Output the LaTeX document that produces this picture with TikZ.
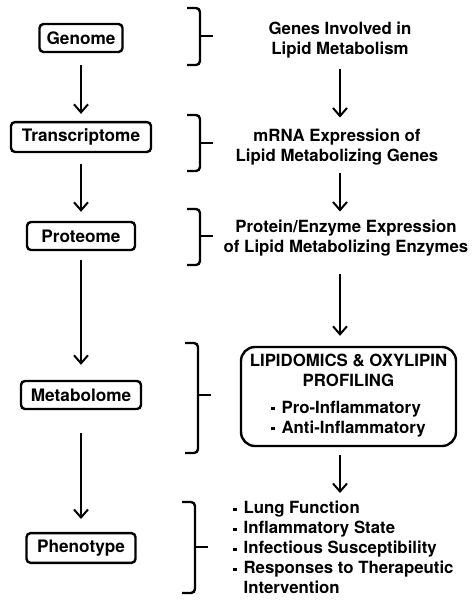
\documentclass[tikz,border=0pt]{standalone}
\usepackage{fontspec}
\setmainfont{TeX Gyre Heros}
\usetikzlibrary{arrows.meta}
\newcommand{\bul}{\raisebox{1.5pt}{\rule{1.6pt}{1.6pt}}\hspace{3.5pt}}
\begin{document}
\begin{tikzpicture}[x=0.5pt,y=-0.5pt,
  omic/.style={shape=rectangle,draw=black,line width=1.2pt,rounded corners=2pt,minimum height=14pt,inner xsep=0pt,font=\bfseries\fontsize{8.6}{10}\selectfont},
  info/.style={align=center,inner sep=0pt,font=\bfseries\fontsize{8.4}{10}\selectfont},
  infoBox/.style={info,draw=black,line width=1.2pt,rounded corners=7pt,minimum width=107.5pt,minimum height=49.5pt},
  arr/.style={-{Straight Barb[length=4pt,width=7pt]},line width=1pt},
  brk/.style={line width=1.2pt,rounded corners=2pt}]
\def\xl{81};
\def\xr{340};
% bracket: left x, top y, bottom y, tip y
\newcommand{\brk}[4]{\draw[brk] (#1,#2) -- (#1+13,#2) -- (#1+13,#3) -- (#1,#3);
  \draw[brk] (#1+13,#4) -- (#1+26,#4);}

\useasboundingbox (0,0) rectangle (475,601);

\node[omic,minimum width=41.5pt] (genome) at (\xl,38) {Genome};
\node[omic,minimum width=70pt] (transcriptome) at (\xl,137) {Transcriptome};
\node[omic,minimum width=54pt] (proteome) at (\xl,236) {Proteome};
\node[omic,minimum width=60pt] (metabolome) at (\xl,395) {Metabolome};
\node[omic,minimum width=54.5pt] (phenotype) at (\xl,548) {Phenotype};

\draw[arr,shorten <=6pt,shorten >=3.5pt] (genome.south) -- (genome.south |- transcriptome.north);
\draw[arr,shorten <=5.5pt,shorten >=4.5pt] (transcriptome.south) -- (transcriptome.south |- proteome.north);
\draw[arr,shorten <=4.5pt,shorten >=7.5pt] (proteome.south) -- (proteome.south |- metabolome.north);
\draw[arr,shorten <=11.5pt,shorten >=6.5pt] (metabolome.south) -- (metabolome.south |- phenotype.north);

\brk{187}{8}{65}{36}
\brk{187}{115}{171}{143}
\brk{187}{209}{265}{236}
\brk{185}{343}{453}{395}
\brk{182}{502}{593}{547}

\node[info] (genes) at (\xr,40) {Genes Involved in\\Lipid Metabolism};
\node[info] (mrna) at (337,147) {mRNA Expression of\\Lipid Metabolizing Genes};
\node[info] (protein) at (346,238) {Protein/Enzyme Expression\\of Lipid Metabolizing Enzymes};
\node[infoBox] (lipids) at (348.5,396.5) {LIPIDOMICS \& OXYLIPIN\\PROFILING\\[5.5pt]
  \begin{tabular}{@{}l@{}}\bul Pro-Inflammatory\\\bul Anti-Inflammatory\end{tabular}};
\node[info,align=left,anchor=north west] (traits) at (233,501) {\bul Lung Function\\\bul Inflammatory State\\\bul Infectious Susceptibility\\\bul Responses to Therapeutic\\\phantom{\bul}Intervention};

\draw[arr,shorten <=5.5pt,shorten >=5.5pt] (genes.south) -- (genes.south |- mrna.north);
\draw[arr,shorten <=4pt,shorten >=4pt] (mrna.south -| genes) -- (protein.north -| genes);
\draw[arr,shorten <=8.5pt,shorten >=5pt] (protein.south -| genes) -- (lipids.north -| genes);
\draw[arr,shorten <=4pt,shorten >=4pt] (lipids.south -| genes) -- (traits.north -| genes);
\end{tikzpicture}
\end{document}
